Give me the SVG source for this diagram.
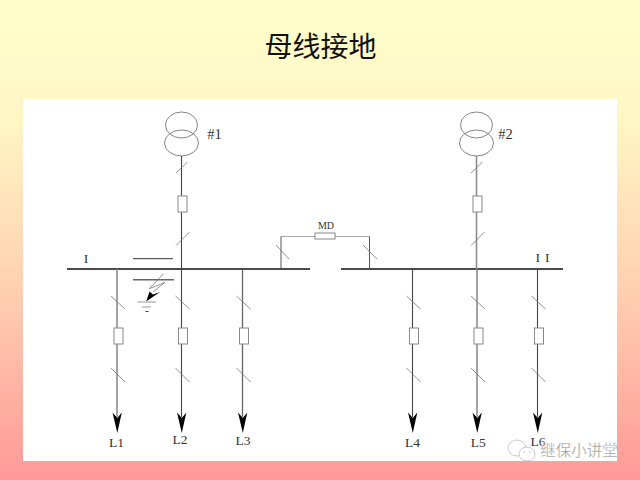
<svg xmlns="http://www.w3.org/2000/svg" width="640" height="480" viewBox="0 0 640 480">
<style>
.w{fill:none}
.dk{stroke:#444;stroke-width:1.1}
.gy{stroke:#8c8c8c;stroke-width:1.6}
.mid{stroke:#666;stroke-width:1.3}
.bus{fill:none;stroke:#111;stroke-width:1.4}
.s{fill:none;stroke:#777;stroke-width:.8}
.b{fill:#fff;stroke:#888;stroke-width:1}
.t{fill:none;stroke:#777;stroke-width:.9}
.l{font-family:"Liberation Serif",serif;font-size:13.500px;fill:#333;text-anchor:middle}
.a{fill:#000;stroke:none}
</style>
<defs>
<linearGradient id="bg" x1="0" y1="0" x2="0" y2="1"><stop offset="0" stop-color="#FFFFCC"/><stop offset=".25" stop-color="#FFF6C4"/><stop offset=".6" stop-color="#FFD0B0"/><stop offset="1" stop-color="#FF9999"/></linearGradient>
<g id="feeder">
<path class="w" d="M0 0V148"/>
<path class="s" d="M-6 27L8 40M-6 99L8 113"/>
<rect class="b" x="-3" y="59" width="9" height="16"/>
<path class="a" d="M-4.500 143.500L0.300 149L4.800 143.500L0.300 164Z"/>
</g>
<g id="incomer">
<ellipse class="t" cx="0" cy="0" rx="16" ry="13"/>
<ellipse class="t" cx="0" cy="18" rx="17" ry="13"/>
<path class="w" d="M0 31V144"/>
<path class="s" d="M-5.500 48L6 37M-5.500 120.500L8 107"/>
<rect class="b" x="-3.500" y="71" width="9" height="16"/>
</g>
</defs>
<rect width="640" height="480" fill="url(#bg)"/>
<rect x="23" y="99" width="594" height="362" fill="#fff"/>
<text x="320.500" y="56.500" font-family="'Noto Sans CJK SC',sans-serif" font-size="28" text-anchor="middle" fill="#111">母线接地</text>
<g id="connectors">
<path class="bus" d="M67 269H310M341 269H563"/>
<path d="M315 236.500H281M335 236.500H369.500" fill="none" stroke="#aaa" stroke-width="1.200"/>
<path d="M281 269V236.500M369.500 269V236.500" fill="none" stroke="#555" stroke-width="1"/>
<path class="s" d="M276 245L289 259M363 245L377 259"/>
</g>
<g id="T1"><use class="dk" href="#incomer" x="181.500" y="125"/><text class="l" x="214.500" y="139" style="font-size:14.500px">#1</text></g>
<g id="T2"><use class="gy" href="#incomer" x="476.500" y="125"/><text class="l" x="505.500" y="139" style="font-size:14.500px">#2</text></g>
<g id="MD"><rect class="b" x="315" y="233" width="20" height="6"/><text class="l" x="326" y="229" style="font-size:10px">MD</text></g>
<g id="busI"><text class="l" x="86" y="263">I</text></g>
<g id="busII"><text class="l" x="545" y="262" letter-spacing="5">II</text></g>
<g id="F1"><use class="gy" href="#feeder" x="117" y="269"/><text class="l" x="116.500" y="447">L1</text></g>
<g id="F2"><use class="dk" href="#feeder" x="181.500" y="269"/><text class="l" x="180" y="444.300">L2</text></g>
<g id="F3"><use class="mid" href="#feeder" x="242.500" y="269"/><text class="l" x="243" y="445.300">L3</text></g>
<g id="F4"><use class="dk" href="#feeder" x="412.500" y="269"/><text class="l" x="412.500" y="446.500">L4</text></g>
<g id="F5"><use class="gy" href="#feeder" x="477" y="269"/><text class="l" x="478.300" y="446.500">L5</text></g>
<g id="F6"><use class="dk" href="#feeder" x="537.500" y="269"/><text class="l" x="538" y="446">L6</text></g>
<g id="earth">
<path d="M133 258.700H173" fill="none" stroke="#333" stroke-width="1"/>
<path d="M133 279.700H174" fill="none" stroke="#666" stroke-width="1.600"/>
<path class="s" d="M163.300 274L149.300 288.700L165 282.300L153.300 291.700"/>
<path class="a" d="M146.200 301.500L149.500 291.500L153 294.500L160 292Z"/>
<path d="M137.500 302H156M142 307H151" fill="none" stroke="#999" stroke-width="1"/>
<path d="M145.500 311.500H148.500" fill="none" stroke="#444" stroke-width="1"/>
</g>
<g id="watermark">
<ellipse cx="517" cy="448" rx="9" ry="8" fill="#fff" stroke="#bbb" stroke-width=".8"/>
<ellipse cx="527" cy="454" rx="8" ry="7" fill="#fff" stroke="#bbb" stroke-width=".8"/>
<circle cx="524" cy="452" r=".8" fill="#bbb"/><circle cx="530" cy="452" r=".8" fill="#bbb"/>
<text x="579" y="456" font-family="'Noto Sans CJK SC',sans-serif" font-size="15.500" text-anchor="middle" fill="#999" stroke="#fff" stroke-width=".3">继保小讲堂</text>
</g>
</svg>
